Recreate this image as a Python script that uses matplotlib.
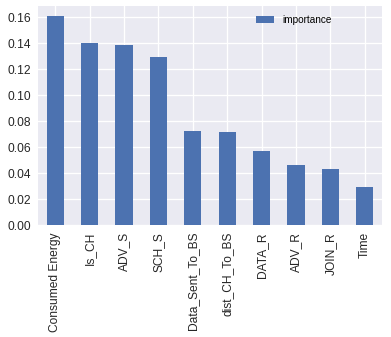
import numpy as np
import matplotlib.pyplot as plt

# feature importance values
features = ['Consumed Energy', 'Is_CH', 'ADV_S', 'SCH_S', 'Data_Sent_To_BS',
            'dist_CH_To_BS', 'DATA_R', 'ADV_R', 'JOIN_R', 'Time']
importance = [0.1606, 0.1398, 0.1383, 0.1290, 0.0726,
              0.0718, 0.0572, 0.0463, 0.0433, 0.0294]

plt.rcParams['font.family'] = ['Liberation Sans', 'DejaVu Sans']

fig = plt.figure(figsize=(391 / 72, 337 / 72), dpi=72)
ax = fig.add_axes([38 / 391, 1 - 225 / 337, 344 / 391, 219 / 337])
ax.set_facecolor('#EAEAF2')

x = np.arange(len(features))
ax.bar(x, importance, width=0.5, color='#4C72B0', label='importance', zorder=2)

ax.set_xlim(-0.5, len(features) - 0.5)
ax.set_ylim(0, 0.1686)
ax.set_yticks(np.arange(0, 0.17, 0.02))
ax.set_yticklabels([f'{v:.2f}' for v in np.arange(0, 0.17, 0.02)])
ax.set_xticks(x)
ax.set_xticklabels(features, rotation=90)

ax.grid(True, color='white', linewidth=1.3, zorder=0)
ax.set_axisbelow(True)
for s in ax.spines.values():
    s.set_visible(False)
ax.tick_params(length=0, labelsize=12, colors='#262626', pad=7)

ax.legend(loc='upper right', frameon=False, fontsize=10, handlelength=1.8,
          bbox_to_anchor=(0.88, 1.0))

fig.savefig('out.png', dpi=72)
